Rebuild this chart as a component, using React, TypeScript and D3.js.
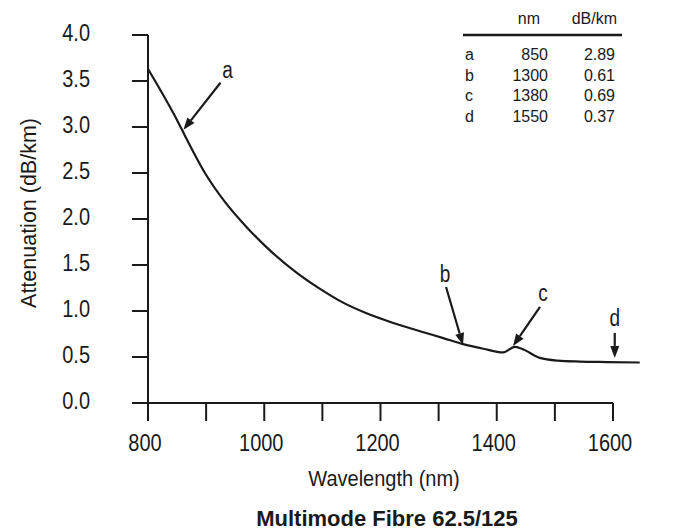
import * as d3 from 'd3';
import { useEffect, useRef } from 'react';

const W = 679;
const H = 531;

// curve
const wavelength = [800, 852, 864, 898, 933, 967, 1013, 1055, 1096, 1130, 1176, 1222, 1268, 1308, 1342, 1377, 1411, 1431, 1443, 1474, 1505, 1543, 1590, 1646];
const attenuation = [3.63, 3.05, 2.9, 2.5, 2.18, 1.93, 1.64, 1.42, 1.24, 1.11, 0.975, 0.87, 0.78, 0.705, 0.64, 0.59, 0.55, 0.61, 0.59, 0.49, 0.46, 0.45, 0.445, 0.44];

const xTicks = [800, 900, 1000, 1100, 1200, 1300, 1400, 1500, 1600];
const xTickLabels = [800, 1000, 1200, 1400, 1600];
const yTicks = [0, 0.5, 1, 1.5, 2, 2.5, 3, 3.5, 4];

// arrows: tip position in data units
const arrowLabels = ['a', 'b', 'c', 'd'];
const arrowWavelength = [861, 1342, 1428, 1603];
const arrowAttenuation = [2.97, 0.63, 0.62, 0.49];

// inset table
const tableKeys = ['a', 'b', 'c', 'd'];
const tableNm = ['850', '1300', '1380', '1550'];
const tableDb = ['2.89', '0.61', '0.69', '0.37'];

const INK = '#1a1a1a';
const SANS = '"Liberation Sans", Arial, sans-serif';

// the source type is a condensed grotesque: fake it with a vertical stretch
const at = (px: number, py: number, k: number) => `translate(${px},${py}) scale(1,${k})`;

export default function App() {
    const svgRef = useRef<SVGSVGElement>(null);

    useEffect(() => {
        if (!svgRef.current) return;
        const svg = d3.select(svgRef.current);
        svg.selectAll('*').remove();

        const x = d3.scaleLinear().domain([800, 1600]).range([148, 613]);
        const y = d3.scaleLinear().domain([0, 4]).range([403, 35]);

        svg.append('rect').attr('width', W).attr('height', H).attr('fill', '#fff');
        svg.attr('font-family', SANS);

        // axes
        const axes = svg.append('g').attr('stroke', INK).attr('stroke-width', 2).attr('fill', 'none');
        axes.append('line').attr('x1', x(800)).attr('x2', x(800)).attr('y1', y(4)).attr('y2', y(0) + 18);
        axes.append('line').attr('x1', x(800) - 16).attr('x2', x(1600)).attr('y1', y(0)).attr('y2', y(0));
        axes.selectAll('.yt')
            .data(yTicks)
            .join('line')
            .attr('x1', x(800) - 16)
            .attr('x2', x(800))
            .attr('y1', (d) => y(d))
            .attr('y2', (d) => y(d));
        axes.selectAll('.xt')
            .data(xTicks)
            .join('line')
            .attr('x1', (d) => x(d))
            .attr('x2', (d) => x(d))
            .attr('y1', y(0))
            .attr('y2', y(0) + 18);

        svg.append('g')
            .selectAll('text')
            .data(yTicks)
            .join('text')
            .attr('transform', (d) => at(90, y(d) + 6, 1.15))
            .attr('text-anchor', 'end')
            .attr('font-size', 20)
            .attr('fill', INK)
            .text((d) => d3.format('.1f')(d));

        svg.append('g')
            .selectAll('text')
            .data(xTickLabels)
            .join('text')
            .attr('transform', (d) => at(x(d) - 3, 451, 1.17))
            .attr('text-anchor', 'middle')
            .attr('font-size', 20)
            .attr('fill', INK)
            .text((d) => d);

        svg.append('text')
            .attr('transform', at(384, 486, 1.08))
            .attr('text-anchor', 'middle')
            .attr('font-size', 20)
            .attr('fill', INK)
            .text('Wavelength (nm)');

        svg.append('text')
            .attr('transform', 'translate(36,213) rotate(-90) scale(1,1.05)')
            .attr('text-anchor', 'middle')
            .attr('font-size', 21.5)
            .attr('fill', INK)
            .text('Attenuation (dB/km)');

        svg.append('text')
            .attr('transform', at(387, 526, 1.0))
            .attr('text-anchor', 'middle')
            .attr('font-weight', 'bold')
            .attr('font-size', 22)
            .attr('fill', INK)
            .text('Multimode Fibre 62.5/125');

        // curve
        const pts = wavelength.map((w, i) => [w, attenuation[i]] as [number, number]);
        const line = d3
            .line<[number, number]>()
            .x((d) => x(d[0]))
            .y((d) => y(d[1]))
            .curve(d3.curveMonotoneX);
        svg.append('path')
            .datum(pts)
            .attr('fill', 'none')
            .attr('stroke', INK)
            .attr('stroke-width', 2.2)
            .attr('stroke-linejoin', 'round')
            .attr('d', line);

        // annotation arrows (tail offset and label offset in px)
        const tails = [[37, -47], [-17, -58], [27, -39], [0, -25]];
        const labelPos = [[44, -52], [-18, -63], [30, -45], [0, -32]];
        const ann = svg.append('g');
        arrowLabels.forEach((lab, i) => {
            const tx = x(arrowWavelength[i]);
            const ty = y(arrowAttenuation[i]);
            const sx = tx + tails[i][0];
            const sy = ty + tails[i][1];
            const len = Math.hypot(tx - sx, ty - sy);
            const ux = (tx - sx) / len;
            const uy = (ty - sy) / len;
            const head = 12;
            const half = 4.5;
            const bx = tx - ux * head;
            const by = ty - uy * head;
            ann.append('line')
                .attr('x1', sx)
                .attr('y1', sy)
                .attr('x2', bx)
                .attr('y2', by)
                .attr('stroke', INK)
                .attr('stroke-width', 2.2);
            ann.append('path')
                .attr('d', `M${tx},${ty}L${bx - uy * half},${by + ux * half}L${bx + uy * half},${by - ux * half}Z`)
                .attr('fill', INK);
            ann.append('text')
                .attr('transform', at(tx + labelPos[i][0], ty + labelPos[i][1], 1.3))
                .attr('text-anchor', 'middle')
                .attr('font-size', 19)
                .attr('fill', INK)
                .text(lab);
        });

        // inset table
        const tbl = svg.append('g').attr('font-size', 16).attr('fill', INK);
        tbl.append('text').attr('transform', at(540, 24, 1.08)).attr('text-anchor', 'end').text('nm');
        tbl.append('text').attr('transform', at(617, 24, 1.08)).attr('text-anchor', 'end').text('dB/km');
        tbl.append('line')
            .attr('x1', 463)
            .attr('x2', 622)
            .attr('y1', 35)
            .attr('y2', 35)
            .attr('stroke', INK)
            .attr('stroke-width', 2.5);
        const rowY = d3.scaleBand<number>().domain(d3.range(tableKeys.length)).range([43, 125]);
        tableKeys.forEach((k, i) => {
            const by = (rowY(i) ?? 0) + rowY.bandwidth() / 2 + 7;
            tbl.append('text').attr('transform', at(465, by, 1.08)).text(k);
            tbl.append('text').attr('transform', at(548, by, 1.08)).attr('text-anchor', 'end').text(tableNm[i]);
            tbl.append('text').attr('transform', at(615, by, 1.08)).attr('text-anchor', 'end').text(tableDb[i]);
        });
    }, []);

    return (
        <svg
            ref={svgRef}
            width={W}
            height={H}
            style={{ position: 'fixed', left: 0, top: 0, display: 'block' }}
        />
    );
}
